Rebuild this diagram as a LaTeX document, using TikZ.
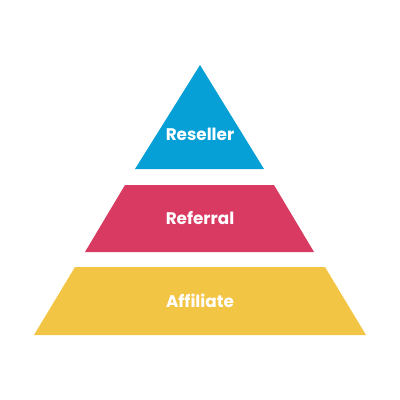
\documentclass[tikz,border=0pt]{standalone}
\usepackage{fontspec}
\setmainfont{Poppins}
\definecolor{cblue}{HTML}{069FD6}
\definecolor{cpink}{HTML}{D93A62}
\definecolor{cyellow}{HTML}{F3C544}
\begin{document}
\begin{tikzpicture}[x=1pt,y=-1pt,
  lbl/.style={text=white,font=\bfseries\fontsize{16.8}{18}\selectfont,inner sep=0pt}]
\useasboundingbox (0,0) rectangle (400,400);
\fill[cblue] (200,65) -- (264,169) -- (135,169) -- cycle;
\fill[cpink] (125,185) -- (274,185) -- (314,252) -- (85,252) -- cycle;
\fill[cyellow] (75,267) -- (325,267) -- (366,335) -- (34,335) -- cycle;
\node[lbl] (reseller) at (200,134.5) {Reseller};
\node[lbl] (referral) at (200,218) {Referral};
\node[lbl] (affiliate) at (200,301) {Affiliate};
\end{tikzpicture}
\end{document}
